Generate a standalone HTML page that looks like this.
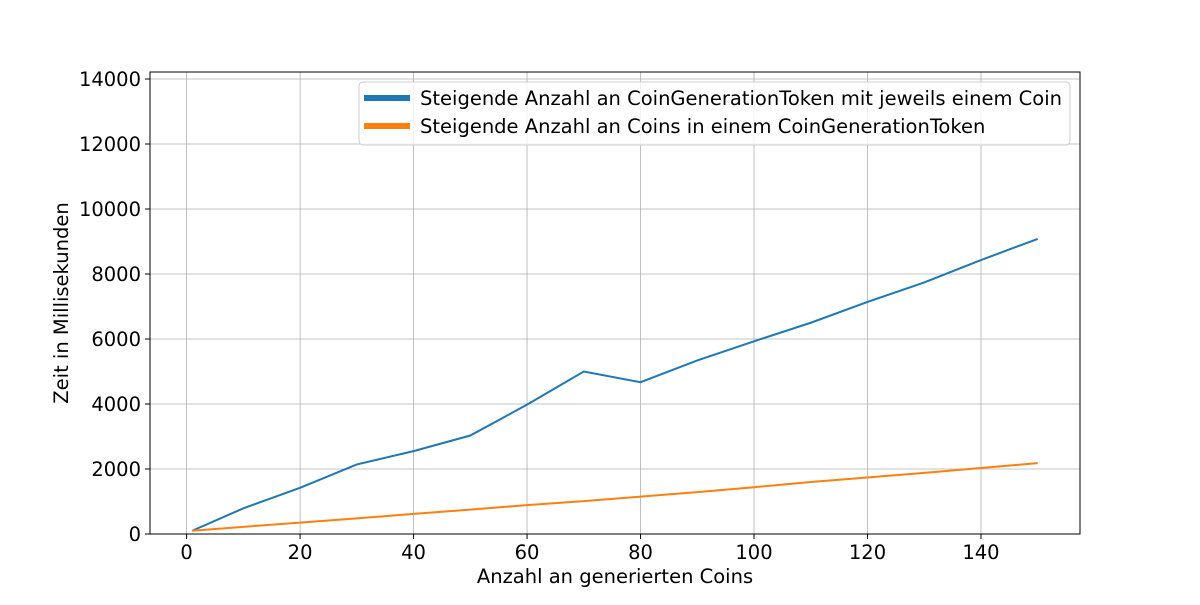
<!DOCTYPE html>
<html><head><meta charset="utf-8"><style>
body{margin:0;background:#fff;}
svg text{font-family:"DejaVu Sans","Liberation Sans",sans-serif;fill:#000;}
</style></head><body>
<svg id="chart" width="1200" height="600">
<rect width="1200" height="600" fill="#fff"/>
<g id="grid"></g>
<g id="series"></g>
<rect x="150" y="72" width="930" height="462" fill="none" stroke="#000" stroke-width="1"/>
<g id="ticks"></g>
<text x="615" y="583" font-size="19.5" text-anchor="middle">Anzahl an generierten Coins</text>
<text transform="translate(68,303) rotate(-90)" font-size="19.5" text-anchor="middle">Zeit in Millisekunden</text>
<g>
<rect x="359" y="82" width="711" height="63" rx="4" fill="#fff" fill-opacity="0.8" stroke="#ccc"/>
<g>
<line x1="364" y1="98" x2="410" y2="98" stroke="#1f77b4" stroke-width="6"/>
<text x="420" y="105" font-size="19.5">Steigende Anzahl an CoinGenerationToken mit jeweils einem Coin</text></g>
<g>
<line x1="364" y1="126" x2="410" y2="126" stroke="#ff7f0e" stroke-width="6"/>
<text x="420" y="133" font-size="19.5">Steigende Anzahl an Coins in einem CoinGenerationToken</text></g>
</g>
</svg>
<script>
const xValues=[1,10,20,30,40,50,60,70,80,90,100,110,120,130,140,150];
const blueValues=[100,790,1420,2140,2550,3030,3980,5000,4670,5340,5930,6500,7140,7740,8430,9080];
const orangeValues=[100,220,350,480,620,750,890,1010,1150,1290,1440,1600,1740,1880,2030,2180];
const xTicks=[0,20,40,60,80,100,120,140];
const yTicks=[0,2000,4000,6000,8000,10000,12000,14000];
const NS="http://www.w3.org/2000/svg";
const xMin=-6.45,xMax=157.45,yMin=0,yMax=14215;
const L=150,R=1080,T=72,B=534;
function xs(v){return L+(v-xMin)/(xMax-xMin)*(R-L);}
function ys(v){return B-(v-yMin)/(yMax-yMin)*(B-T);}
function mk(tag,attrs,parent){const e=document.createElementNS(NS,tag);for(const k in attrs)e.setAttribute(k,attrs[k]);parent.appendChild(e);return e;}
const grid=document.getElementById('grid'),ticks=document.getElementById('ticks'),series=document.getElementById('series');
xTicks.forEach(t=>{const x=xs(t);
const g=mk('line',{x1:x,x2:x,y1:T,y2:B,stroke:'#b0b0b0','stroke-width':0.8},grid);


mk('line',{x1:x,x2:x,y1:B,y2:B+5,stroke:'#000'},ticks);
const tx=mk('text',{x:x,y:B+25,'font-size':19.5,'text-anchor':'middle'},ticks);tx.textContent=t;

});
yTicks.forEach(t=>{const y=ys(t);
const g=mk('line',{x1:L,x2:R,y1:y,y2:y,stroke:'#b0b0b0','stroke-width':0.8},grid);


mk('line',{x1:L-5,x2:L,y1:y,y2:y,stroke:'#000'},ticks);
const tx=mk('text',{x:L-9,y:y+7,'font-size':19.5,'text-anchor':'end'},ticks);tx.textContent=t;

});
function line(vals,color,name){const p=mk('polyline',{points:vals.map((v,i)=>xs(xValues[i])+','+ys(v)).join(' '),fill:'none',stroke:color,'stroke-width':2},series);

}
line(blueValues,'#1f77b4','series-token-line');
line(orangeValues,'#ff7f0e','series-coins-line');
</script>
</body></html>
